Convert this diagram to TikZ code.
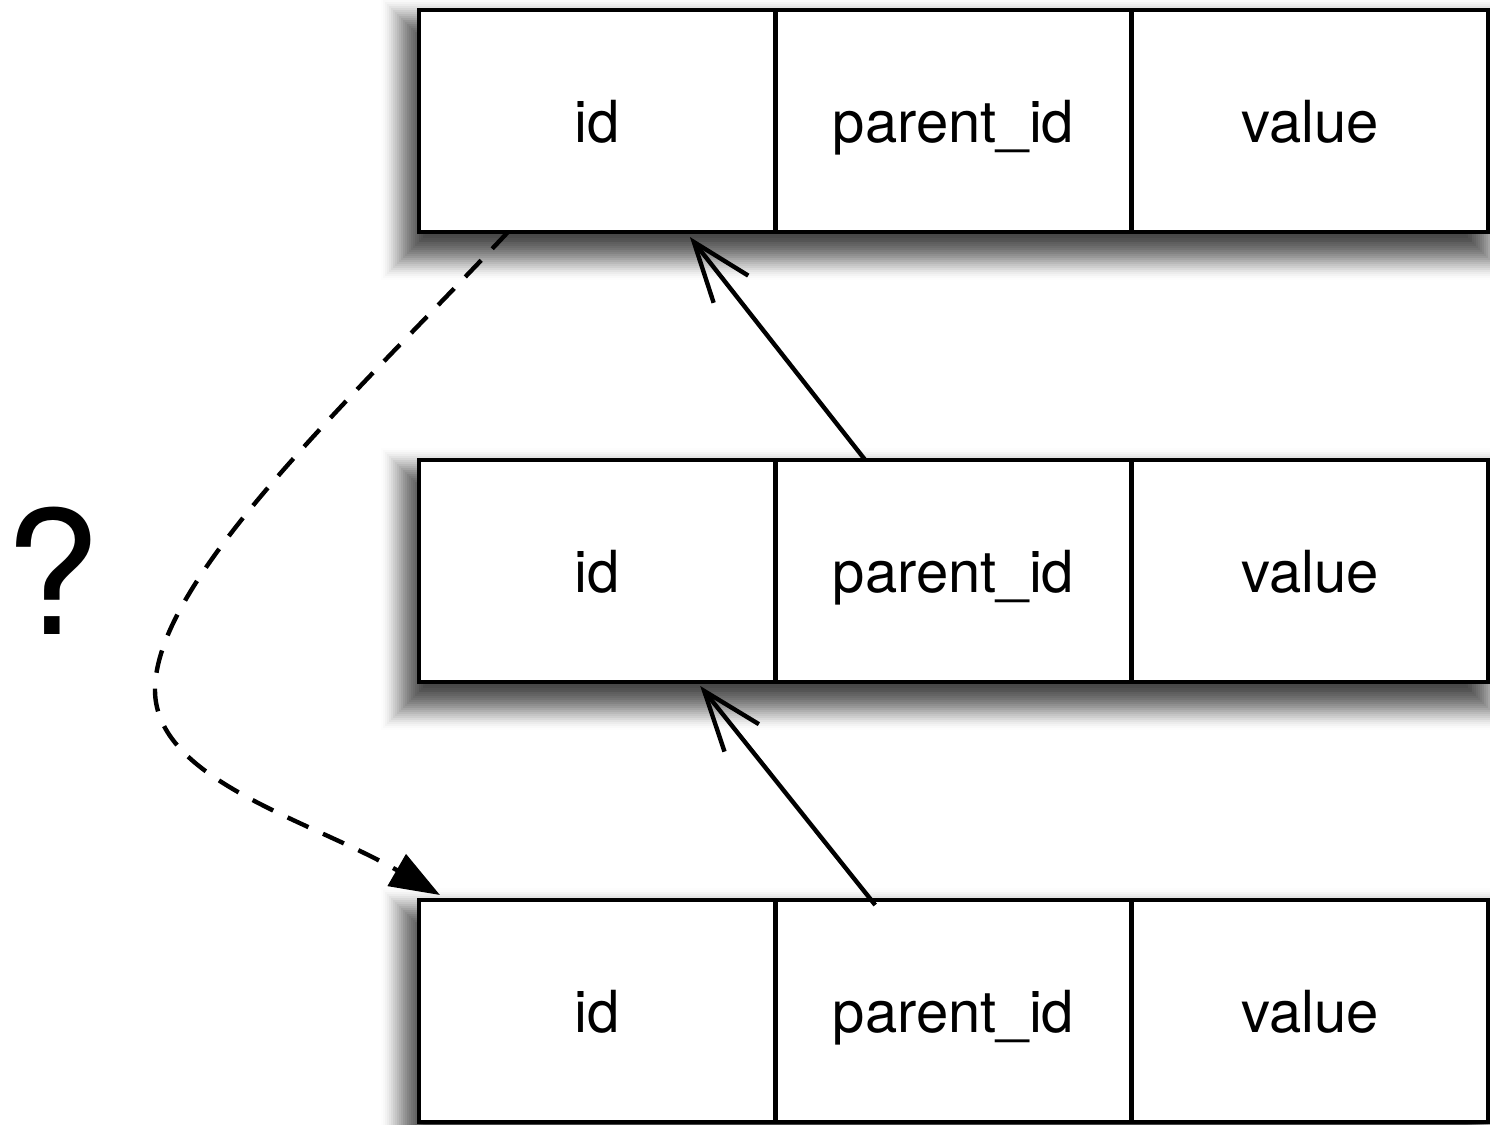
\documentclass[tikz,border=0pt]{standalone}
\usepackage{fontspec}
\setmainfont{TeX Gyre Heros}
\usetikzlibrary{arrows.meta,calc}
\tikzset{
  cell/.style={draw=black, line width=2.4pt, fill=white, minimum width=178pt, minimum height=111pt,
    inner sep=0pt, outer sep=0pt, text height=21pt, text depth=0pt, font=\fontsize{29}{35}\selectfont},
  link/.style={line width=2.2pt, -{Straight Barb[length=30pt,width=22pt,line width=2.2pt]}},
  guess/.style={line width=2.2pt, dash pattern=on 11.5pt off 8pt, -{Triangle[length=25pt,width=18pt]}},
  qmark/.style={font=\fontsize{86}{100}\selectfont, inner sep=0pt, anchor=base},
}
\newcommand\myrowshadow[2]{%
  \foreach \r in {-30,-28,...,30} {
    \pgfmathsetmacro\myop{0.065*(1-(\r/32)^2)}
    \fill[black, opacity=\myop] ({411-(\r)},{#1+18-(\r)}) rectangle ({1480+(\r)},{#2+18+(\r)});
  }}
\begin{document}
\begin{tikzpicture}[x=0.5pt, y=-0.5pt]
  \useasboundingbox (0,0) rectangle (1490,1125);
  \fill[white] (0,0) rectangle (1490,1125);
  % shadows
  \myrowshadow{10}{232}
  \myrowshadow{460}{682}
  \myrowshadow{900}{1122}
  % row 1
  \node[cell] (r1i) at (597,121) {id};
  \node[cell] (r1p) at (953.5,121) {parent\_id};
  \node[cell] (r1v) at (1310,121) {value};
  % row 2
  \node[cell] (r2i) at (597,571) {id};
  \node[cell] (r2p) at (953.5,571) {parent\_id};
  \node[cell] (r2v) at (1310,571) {value};
  % row 3
  \node[cell] (r3i) at (597,1011) {id};
  \node[cell] (r3p) at (953.5,1011) {parent\_id};
  \node[cell] (r3v) at (1310,1011) {value};
  % question mark
  \node[qmark] (q) at (52,634) {?};
  % arrows
  \draw[link] ($(r2p.north west)!0.252!(r2p.north east)$) -- ($(r1i.south west)!0.761!(r1i.south east)+(0,5)$);
  \draw[link] ($(r3p.north west)!0.28!(r3p.north east)+(0,5)$) -- ($(r2i.south west)!0.79!(r2i.south east)+(0,4)$);
  \coordinate (bend) at (155,690);
  \draw[guess] ($(r1i.south west)!0.25!(r1i.south east)$) .. controls (350,400) and (155,580) .. (bend)
     .. controls (155,780) and (310,820) .. ($(r3i.north west)+(21,-5)$);
\end{tikzpicture}
\end{document}
